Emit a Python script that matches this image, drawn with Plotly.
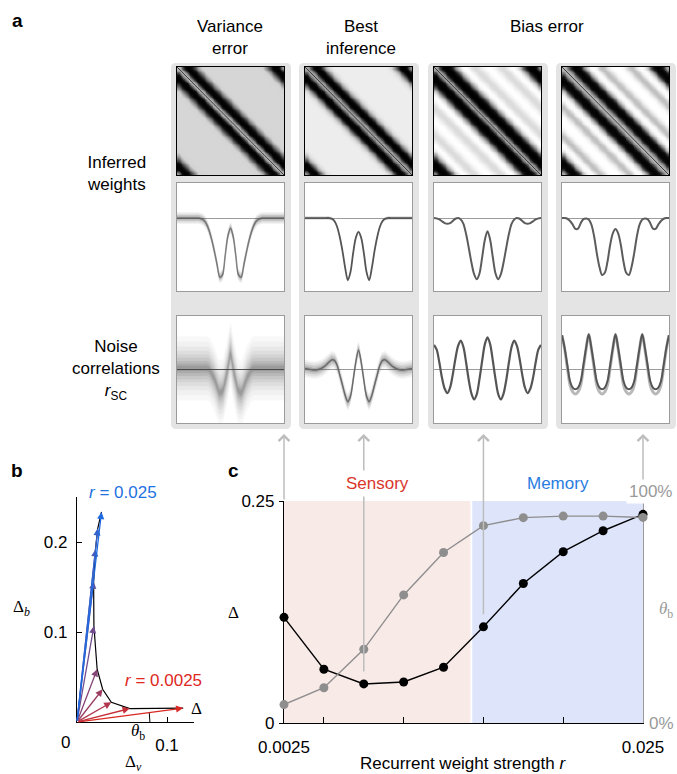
import numpy as np
import plotly.graph_objects as go

FIG_W, FIG_H = 677, 774
SANS = "Liberation Sans, Arial, Helvetica, sans-serif"
SERIF = "Liberation Serif, Times New Roman, serif"


def fx(px):
    return px / FIG_W


def fy(py):
    return 1 - py / FIG_H


# ---------------------------------------------------------------- data
# position around the ring (0.5 = the neuron itself)
ring_pos = [k / 40 for k in range(41)]

# inferred weight profiles (one row of the circulant weight matrix)
w_variance = [0, 0, 0, 0, 0, 0, 0, 0, 0, -0.01, -0.03, -0.08, -0.17, -0.30, -0.46, -0.64, -0.81, -0.78, -0.52, -0.25,
              -0.14,
              -0.25, -0.52, -0.78, -0.81, -0.64, -0.46, -0.30, -0.17, -0.08, -0.03, -0.01, 0, 0, 0, 0, 0, 0, 0, 0, 0]
w_best = [0, 0, 0, 0, 0, 0, 0, 0, 0, 0, -0.01, -0.04, -0.12, -0.26, -0.45, -0.68, -0.85, -0.74, -0.48, -0.27,
          -0.19,
          -0.27, -0.48, -0.74, -0.85, -0.68, -0.45, -0.26, -0.12, -0.04, -0.01, 0, 0, 0, 0, 0, 0, 0, 0, 0, 0]
w_bias_a = [0, -0.005, -0.02, -0.045, -0.07, -0.08, -0.07, -0.04, -0.01, 0.0, -0.02, -0.08, -0.22, -0.41, -0.61,
            -0.77, -0.84, -0.76, -0.54, -0.30,
            -0.18,
            -0.30, -0.54, -0.76, -0.84, -0.77, -0.61, -0.41, -0.22, -0.08, -0.02, 0.0, -0.01, -0.04, -0.07, -0.08,
            -0.07, -0.045, -0.02, -0.005, 0]
w_bias_b = [0, 0, -0.01, -0.04, -0.09, -0.15, -0.145, -0.07, -0.015, -0.005, -0.02, -0.09, -0.25, -0.48, -0.67,
            -0.78, -0.75, -0.60, -0.37, -0.21,
            -0.15,
            -0.21, -0.37, -0.60, -0.75, -0.78, -0.67, -0.48, -0.25, -0.09, -0.02, -0.005, -0.015, -0.07, -0.145,
            -0.15, -0.09, -0.04, -0.01, 0, 0]

# noise-correlation profiles
n_variance = [0.02, 0.02, 0.02, 0.02, 0.02, 0.02, 0.02, 0.02, 0.02, 0.02, 0.02, 0.02, 0.0, -0.08, -0.18, -0.32,
              -0.43, -0.40, -0.22, 0.02,
              0.28,
              0.02, -0.22, -0.40, -0.43, -0.32, -0.18, -0.08, 0.0, 0.02, 0.02, 0.02, 0.02, 0.02, 0.02, 0.02, 0.02,
              0.02, 0.02, 0.02, 0.02]
n_best = [0.02, 0.01, 0.0, -0.01, -0.01, 0.0, 0.02, 0.05, 0.09, 0.14, 0.18, 0.17, 0.08, -0.10, -0.29, -0.48, -0.60,
          -0.50, -0.20, 0.14,
          0.36,
          0.14, -0.20, -0.50, -0.60, -0.48, -0.29, -0.10, 0.08, 0.17, 0.18, 0.14, 0.09, 0.05, 0.02, 0.0, -0.01,
          -0.01, 0.0, 0.01, 0.02]
n_bias_a = [0.46, 0.37, 0.13, -0.16, -0.36, -0.44, -0.34, -0.10, 0.20, 0.44, 0.54, 0.42, 0.13, -0.20, -0.45, -0.56,
            -0.46, -0.18, 0.16, 0.47,
            0.60,
            0.47, 0.16, -0.18, -0.46, -0.56, -0.45, -0.20, 0.13, 0.42, 0.54, 0.44, 0.20, -0.10, -0.34, -0.44, -0.36,
            -0.16, 0.13, 0.37, 0.46]
n_bias_b = [0.64, 0.40, 0.08, -0.22, -0.34, -0.37, -0.34, -0.22, 0.08, 0.40,
            0.66, 0.40, 0.08, -0.22, -0.34, -0.37, -0.34, -0.22, 0.08, 0.40,
            0.66, 0.40, 0.08, -0.22, -0.34, -0.37, -0.34, -0.22, 0.08, 0.40,
            0.66, 0.40, 0.08, -0.22, -0.34, -0.37, -0.34, -0.22, 0.08, 0.40,
            0.64]
n_bias_b_alt = [0.64, 0.38, 0.03, -0.29, -0.42, -0.46, -0.42, -0.29, 0.03, 0.38,
                0.66, 0.38, 0.03, -0.29, -0.42, -0.46, -0.42, -0.29, 0.03, 0.38,
                0.66, 0.38, 0.03, -0.29, -0.42, -0.46, -0.42, -0.29, 0.03, 0.38,
                0.66, 0.38, 0.03, -0.29, -0.42, -0.46, -0.42, -0.29, 0.03, 0.38,
                0.64]

column_titles = ["Variance<br>error", "Best<br>inference"]
bias_title = "Bias error"
weight_profiles = [w_variance, w_best, w_bias_a, w_bias_b]
noise_profiles = [n_variance, n_best, n_bias_a, n_bias_b]
heat_background = ["#d6d6d6", "#ededed", "#ffffff", "#ffffff"]

# panel c: error magnitude and bias angle against recurrent strength
r_values = [0.0025, 0.005, 0.0075, 0.01, 0.0125, 0.015, 0.0175, 0.02, 0.0225, 0.025]
delta = [0.119, 0.0605, 0.044, 0.0462, 0.0628, 0.1083, 0.1571, 0.1929, 0.2165, 0.235]
theta_pct = [8.3, 15.9, 33.2, 57.7, 76.8, 88.9, 92.5, 93.2, 93.2, 92.6]
column_r = [0.0025, 0.0075, 0.015, 0.025]

# panel b: decomposition of each error into variance and bias parts
theta_rad = [p / 100 * np.pi / 2 for p in theta_pct]
delta_v = [d * np.cos(t) for d, t in zip(delta, theta_rad)]
delta_b = [d * np.sin(t) for d, t in zip(delta, theta_rad)]

# ---------------------------------------------------------------- layout helpers
fig = go.Figure()
layout = dict(
    width=FIG_W, height=FIG_H, autosize=False,
    margin=dict(l=0, r=0, t=0, b=0, pad=0, autoexpand=False),
    paper_bgcolor="white", plot_bgcolor="rgba(0,0,0,0)", showlegend=False,
    font=dict(family=SANS, size=17, color="black"),
)
shapes = []
annotations = []
axis_count = [0]


def new_axes(xpx, ypx, xa, ya):
    axis_count[0] += 1
    s = "" if axis_count[0] == 1 else str(axis_count[0])
    layout["xaxis" + s] = dict(domain=[fx(xpx[0]), fx(xpx[1])], anchor="y" + s, automargin=False, **xa)
    layout["yaxis" + s] = dict(domain=[fy(ypx[1]), fy(ypx[0])], anchor="x" + s, automargin=False, **ya)
    return "x" + s, "y" + s


def rounded_rect(x0, y0, x1, y1, r):
    return (f"M {fx(x0 + r)},{fy(y0)} L {fx(x1 - r)},{fy(y0)} Q {fx(x1)},{fy(y0)} {fx(x1)},{fy(y0 + r)} "
            f"L {fx(x1)},{fy(y1 - r)} Q {fx(x1)},{fy(y1)} {fx(x1 - r)},{fy(y1)} "
            f"L {fx(x0 + r)},{fy(y1)} Q {fx(x0)},{fy(y1)} {fx(x0)},{fy(y1 - r)} "
            f"L {fx(x0)},{fy(y0 + r)} Q {fx(x0)},{fy(y0)} {fx(x0 + r)},{fy(y0)} Z")


def text(x, y, s, size=17, color="black", family=SANS, xanchor="center", bg=None, **kw):
    a = dict(x=fx(x), y=fy(y), xref="paper", yref="paper", text=s, showarrow=False,
             xanchor=xanchor, yanchor="middle", font=dict(size=size, color=color, family=family))
    if bg:
        a.update(bgcolor=bg, borderpad=2)
    a.update(kw)
    annotations.append(a)


bare = dict(showgrid=False, zeroline=False, showticklabels=False, ticks="")

# ---------------------------------------------------------------- panel a
box_left = [177, 305, 434, 562]
box_w = 107
heat_top, heat_bot = 67, 175
wt_top, wt_bot = 183, 291
nc_top, nc_bot = 316, 423

for left in box_left:
    shapes.append(dict(type="path", path=rounded_rect(left - 6, 63, left + box_w + 7, 429, 5),
                       xref="paper", yref="paper", fillcolor="#e4e4e4", line=dict(width=0), layer="below"))
for left in box_left:
    for top, bot in [(wt_top, wt_bot), (nc_top, nc_bot)]:
        shapes.append(dict(type="rect", x0=fx(left), x1=fx(left + box_w), y0=fy(bot), y1=fy(top),
                           xref="paper", yref="paper", fillcolor="white", line=dict(width=0), layer="below"))

n_ring = len(ring_pos) - 1
heat_x = dict(bare, range=[-0.5, n_ring - 0.5], showline=True, mirror=True, linecolor="black", linewidth=1.3)
heat_y = dict(bare, range=[n_ring - 0.5, -0.5], showline=True, mirror=True, linecolor="black", linewidth=1.3)

for c, left in enumerate(box_left):
    prof = weight_profiles[c]
    z = [[prof[(j - i + n_ring // 2) % n_ring] for j in range(n_ring)] for i in range(n_ring)]
    xa, ya = new_axes((left, left + box_w), (heat_top, heat_bot), heat_x, heat_y)
    bg = heat_background[c]
    fig.add_trace(go.Heatmap(
        z=z, zsmooth="best", zmin=-0.8, zmax=0, showscale=False, hoverinfo="skip",
        colorscale=[[0, "#000000"], [0.22, "#101010"], [0.45, "#4a4a4a"], [0.7, "#9c9c9c"],
                    [0.88, "#d2d2d2"], [1, bg]],
        xaxis=xa, yaxis=ya))
    shapes.append(dict(type="line", xref=xa, yref=ya, x0=-0.5, y0=-0.5, x1=n_ring - 0.5, y1=n_ring - 0.5,
                       line=dict(color="#2a2a2a", width=0.9)))

line_x = dict(bare, range=[0, 1], showline=True, mirror=True, linecolor="#9b9b9b", linewidth=1)


def profile_line(xa, ya, y, color, width):
    fig.add_trace(go.Scatter(x=ring_pos, y=y, mode="lines",
                             line=dict(color=color, width=width, shape="spline", smoothing=0.9),
                             hoverinfo="skip", xaxis=xa, yaxis=ya))


def profile_band(xa, ya, y, spread, alpha):
    # trial-to-trial scatter drawn as a soft vertical band around the mean profile
    lo = [v - spread for v in y]
    hi = [v + spread for v in y]
    fig.add_trace(go.Scatter(x=ring_pos, y=lo, mode="lines", line=dict(width=0, shape="spline", smoothing=0.9),
                             hoverinfo="skip", xaxis=xa, yaxis=ya))
    fig.add_trace(go.Scatter(x=ring_pos, y=hi, mode="lines", line=dict(width=0, shape="spline", smoothing=0.9),
                             fill="tonexty", fillcolor=f"rgba(70,70,70,{alpha})",
                             hoverinfo="skip", xaxis=xa, yaxis=ya))


weight_bands = [[(0.08, 0.08), (0.06, 0.1), (0.04, 0.15), (0.02, 0.2)], [(0.02, 0.3)], [], []]
weight_lines = [[("rgba(80,80,80,0.6)", 1.6)], [("#555555", 1.8)], [("#5c5c5c", 2)], [("#5c5c5c", 2)]]
for c, left in enumerate(box_left):
    wy = dict(bare, range=[-1, 0.48], showline=True, mirror=True, linecolor="#9b9b9b", linewidth=1,
              zeroline=True, zerolinecolor="#9b9b9b", zerolinewidth=1)
    xa, ya = new_axes((left, left + box_w), (wt_top, wt_bot), line_x, wy)
    for spread, alpha in weight_bands[c]:
        profile_band(xa, ya, weight_profiles[c], spread, alpha)
    for color, width in weight_lines[c]:
        profile_line(xa, ya, weight_profiles[c], color, width)

noise_bands = [[(0.6, 0.035), (0.5, 0.04), (0.41, 0.05), (0.33, 0.06), (0.26, 0.07), (0.2, 0.08),
                (0.14, 0.1), (0.09, 0.12), (0.05, 0.15)],
               [(0.16, 0.07), (0.12, 0.1), (0.08, 0.15), (0.04, 0.22)], [], []]
noise_lines = [[], [("#6a6a6a", 1.4)], [("#555555", 2.2)], [("#555555", 2)]]
for c, left in enumerate(box_left):
    ny = dict(bare, range=[-1, 1], showline=True, mirror=True, linecolor="#9b9b9b", linewidth=1,
              zeroline=True, zerolinecolor="#555555" if c == 0 else "#9b9b9b", zerolinewidth=1.3)
    xa, ya = new_axes((left, left + box_w), (nc_top, nc_bot), line_x, ny)
    for spread, alpha in noise_bands[c]:
        profile_band(xa, ya, noise_profiles[c], spread, alpha)
    if c == 3:
        profile_line(xa, ya, n_bias_b_alt, "#b8b8b8", 3)
    for color, width in noise_lines[c]:
        profile_line(xa, ya, noise_profiles[c], color, width)

text(17, 20, "<b>a</b>", size=19)
text(230, 37, column_titles[0])
text(361, 37, column_titles[1])
text(547, 26, bias_title)
text(116, 173, "Inferred<br>weights")
text(116, 370, "Noise<br>correlations<br><i>r</i><sub>SC</sub>")

# ---------------------------------------------------------------- panel b
bx, by = new_axes(
    (77, 194), (497, 722),
    dict(showgrid=False, zeroline=False, range=[0, 0.13], showline=True, linecolor="black", linewidth=1.2,
         ticks="inside", ticklen=5, tickcolor="black", tickvals=[0.1], ticktext=["0.1"], ticklabelstandoff=7,
         tickfont=dict(size=17, color="black")),
    dict(showgrid=False, zeroline=False, range=[0, 0.25], showline=True, linecolor="black", linewidth=1.2,
         ticks="inside", ticklen=5, tickcolor="black", tickvals=[0.1, 0.2], ticktext=["0.1", "0.2"],
         ticklabelstandoff=5, tickfont=dict(size=17, color="black")),
)

# path through the tips of the error vectors
fig.add_trace(go.Scatter(x=delta_v, y=delta_b, mode="lines", line=dict(color="black", width=1.2),
                         hoverinfo="skip", xaxis=bx, yaxis=by, cliponaxis=False))
# angle marker for the smallest recurrent strength
arc_t = np.linspace(0, theta_rad[0], 12)
arc_r = 0.081
fig.add_trace(go.Scatter(x=arc_r * np.cos(arc_t), y=arc_r * np.sin(arc_t), mode="lines",
                         line=dict(color="black", width=1), hoverinfo="skip", xaxis=bx, yaxis=by))

red = np.array([218, 40, 34])
blue = np.array([30, 106, 226])
n_vec = len(r_values)
for i in range(n_vec):
    t = i / (n_vec - 1)
    col = red * (1 - t) + blue * t
    annotations.append(dict(
        x=delta_v[i], y=delta_b[i], xref=bx, yref=by, ax=0, ay=0, axref=bx, ayref=by,
        showarrow=True, arrowhead=2, arrowsize=1.1, arrowwidth=1.3, text="",
        arrowcolor=f"rgb({col[0]:.0f},{col[1]:.0f},{col[2]:.0f})"))

text(17, 470, "<b>b</b>", size=19)
text(123, 493, f"<i>r</i> = {r_values[-1]:g}", color="#1f72e0")
text(163, 680, f"<i>r</i> = {r_values[0]:g}", color="#e0261d")
text(196, 708, "Δ", family=SERIF)
text(22, 608, "Δ<sub><i>b</i></sub>", family=SERIF)
text(133, 763, "Δ<sub><i>v</i></sub>", family=SERIF)
text(138, 732, "<i>θ</i><sub>b</sub>", family=SERIF)
text(65, 742, "0")

# ---------------------------------------------------------------- panel c
c_left, c_right, c_top, c_bot = 284, 643, 501, 723
cx, cy = new_axes(
    (c_left, c_right), (c_top, c_bot),
    dict(showgrid=False, zeroline=False, range=[r_values[0], r_values[-1]], showline=True, linecolor="black",
         linewidth=1.2, layer="below traces", ticks="", tickvals=[r_values[0], r_values[-1]],
         ticktext=[f"{r_values[0]:g}", f"{r_values[-1]:g}"], ticklabelstandoff=8,
         tickfont=dict(size=17, color="black"),
         minor=dict(tickvals=[0.005, 0.01, 0.015, 0.02], ticks="inside", ticklen=6, tickcolor="black",
                    tickwidth=1, showgrid=False)),
    dict(showgrid=False, zeroline=False, range=[0, 0.25], showline=True, linecolor="black", linewidth=1.2,
         layer="below traces", ticks="outside", ticklen=4, tickcolor="black", tickvals=[0, 0.25],
         ticktext=["0", "0.25"], ticklabelstandoff=1, tickfont=dict(size=17, color="black")),
)
theta_axis = "y20"
layout["yaxis20"] = dict(overlaying=cy, side="right", anchor=cx, range=[0, 100], showline=True,
                         linecolor="#9a9a9a", linewidth=1.2, showgrid=False, zeroline=False, automargin=False,
                         showticklabels=False, ticks="", layer="below traces")

sensory_end, memory_start = 0.01418, 0.01430
shapes.append(dict(type="rect", xref=cx, yref=cy, x0=r_values[0], x1=sensory_end, y0=0, y1=0.25,
                   fillcolor="#f8eae7", line=dict(width=0), layer="below"))
shapes.append(dict(type="rect", xref=cx, yref=cy, x0=memory_start, x1=r_values[-1], y0=0, y1=0.25,
                   fillcolor="#dee5fb", line=dict(width=0), layer="below"))

fig.add_trace(go.Scatter(x=r_values, y=delta, mode="lines+markers", line=dict(color="black", width=1.4),
                         marker=dict(size=9, color="black"), hoverinfo="skip", xaxis=cx, yaxis=cy,
                         cliponaxis=False))
fig.add_trace(go.Scatter(x=r_values, y=theta_pct, mode="lines+markers", line=dict(color="#8e8e8e", width=1.4),
                         marker=dict(size=9, color="#8e8e8e"), hoverinfo="skip", xaxis=cx, yaxis=theta_axis,
                         cliponaxis=False))

# arrows linking the example strengths to the columns above
head_px = 434
for r in column_r:
    i = r_values.index(r)
    if i in (0, len(r_values) - 1):
        tail_px = c_top
    else:
        tail_px = c_top + (0.25 - delta[i]) / 0.25 * (c_bot - c_top) - 11
    annotations.append(dict(x=r, xref=cx, y=fy(head_px), yref="paper", ax=0, ay=tail_px - head_px,
                            axref="pixel", ayref="pixel", showarrow=True, arrowhead=4, arrowsize=1.4,
                            arrowwidth=1.5, arrowcolor="#bdbdbd", text=""))

annotations.append(dict(x=(r_values[0] + sensory_end) / 2, xref=cx, y=fy(483), yref="paper", text="Sensory",
                        showarrow=False, bgcolor="white", borderpad=3,
                        font=dict(size=17, color="#d9362b", family=SANS)))
annotations.append(dict(x=(memory_start + r_values[-1]) / 2, xref=cx, y=fy(483), yref="paper", text="Memory",
                        showarrow=False, bgcolor="white", borderpad=3,
                        font=dict(size=17, color="#2a7de1", family=SANS)))
text(675, 491, "100%", color="#9a9a9a", xanchor="right", bg="white")
text(676, 723, "0%", color="#9a9a9a", xanchor="right")
text(657, 610, "<i>θ</i><sub>b</sub>", color="#9a9a9a", xanchor="left", family=SERIF)
text(234, 612, "Δ", family=SERIF)
text(233, 470, "<b>c</b>", size=19)
text(463, 763, "Recurrent weight strength <i>r</i>")

layout["shapes"] = shapes
layout["annotations"] = annotations
fig.update_layout(layout)
fig.write_html("out.html")
